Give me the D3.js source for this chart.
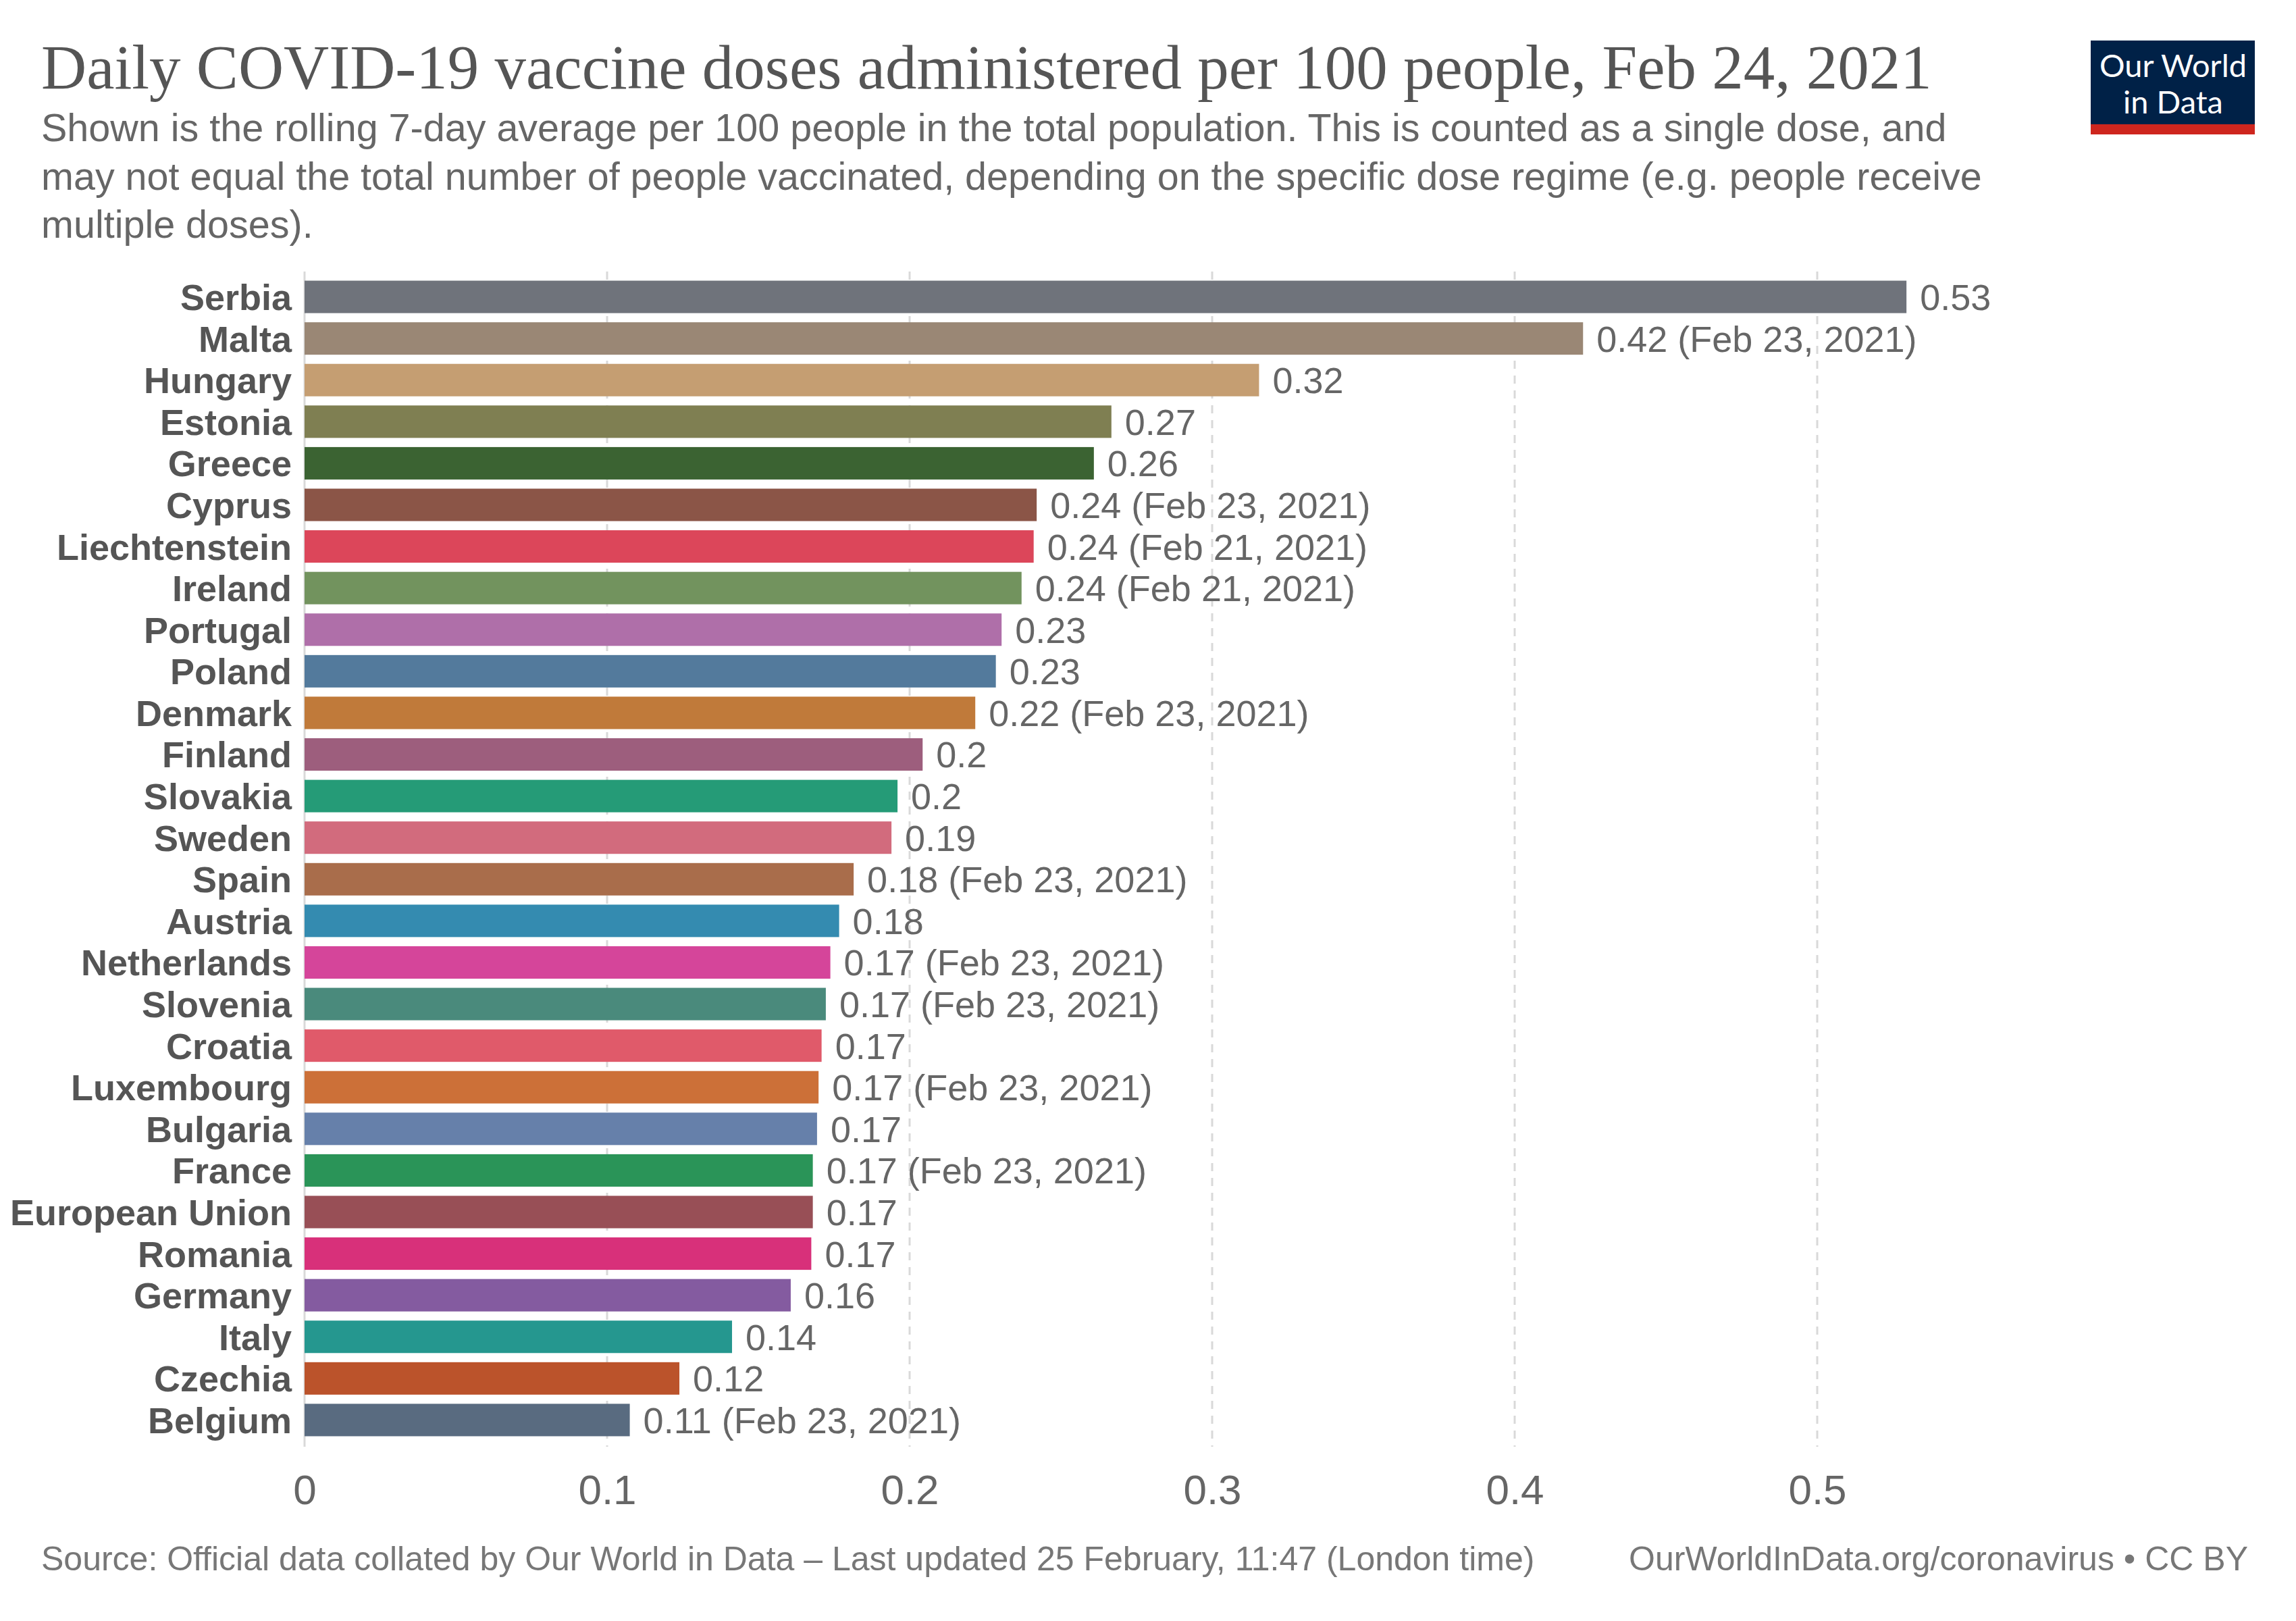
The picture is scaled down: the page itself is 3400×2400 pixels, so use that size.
<!DOCTYPE html>
<html>
<head>
<meta charset="utf-8">
<script src="https://cdn.jsdelivr.net/npm/d3@7"></script>
<style>
  body { margin: 0; background: #fff; }
  svg { display: block; }
</style>
</head>
<body>
<svg id="chart" width="3400" height="2400"></svg>
<script>
// data
const countries = ['Serbia', 'Malta', 'Hungary', 'Estonia', 'Greece', 'Cyprus', 'Liechtenstein', 'Ireland',
  'Portugal', 'Poland', 'Denmark', 'Finland', 'Slovakia', 'Sweden', 'Spain', 'Austria', 'Netherlands',
  'Slovenia', 'Croatia', 'Luxembourg', 'Bulgaria', 'France', 'European Union', 'Romania', 'Germany',
  'Italy', 'Czechia', 'Belgium']
const values = [0.5295, 0.4226, 0.3155, 0.2667, 0.2609, 0.2420, 0.2410, 0.2370,
  0.2304, 0.2285, 0.2217, 0.2043, 0.1960, 0.1940, 0.1815, 0.1767, 0.1738,
  0.1723, 0.1709, 0.1699, 0.1694, 0.1680, 0.1680, 0.1675, 0.1607,
  0.1413, 0.1239, 0.1075]
const dates = ['', 'Feb 23, 2021', '', '', '', 'Feb 23, 2021', 'Feb 21, 2021', 'Feb 21, 2021',
  '', '', 'Feb 23, 2021', '', '', '', 'Feb 23, 2021', '', 'Feb 23, 2021',
  'Feb 23, 2021', '', 'Feb 23, 2021', '', 'Feb 23, 2021', '', '', '',
  '', '', 'Feb 23, 2021']
const colors = ['#6f737b', '#9a8775', '#c59e72', '#7f7f52', '#3b6332', '#8b5547', '#dc465a', '#72935e',
  '#af6fa9', '#537a9c', '#c07a3a', '#9d5e7d', '#259b77', '#d26b7d', '#a96d4b', '#348bb0', '#d5459a',
  '#4a8a7c', '#e05a6a', '#cc7038', '#6680aa', '#2a9458', '#984f56', '#d8307a', '#845ba0',
  '#25978f', '#bb532b', '#596b80']
const xTicks = [0, 0.1, 0.2, 0.3, 0.4, 0.5]

const title = 'Daily COVID-19 vaccine doses administered per 100 people, Feb 24, 2021'
const subtitle = [
  'Shown is the rolling 7-day average per 100 people in the total population. This is counted as a single dose, and',
  'may not equal the total number of people vaccinated, depending on the specific dose regime (e.g. people receive',
  'multiple doses).'
]
const sourceText = 'Source: Official data collated by Our World in Data – Last updated 25 February, 11:47 (London time)'
const urlText = 'OurWorldInData.org/coronavirus • CC BY'

const svg = d3.select('#chart')
const sans = '"Liberation Sans", Arial, sans-serif'

// header
svg.append('text')
  .attr('x', 61).attr('y', 131)
  .attr('font-family', '"Liberation Serif", "DejaVu Serif", serif')
  .attr('font-size', 93)
  .attr('fill', '#555')
  .text(title)

svg.append('g').selectAll('text')
  .data(subtitle)
  .join('text')
  .attr('x', 61)
  .attr('y', (d, i) => 209 + i * 71.5)
  .attr('font-family', sans)
  .attr('font-size', 57.5)
  .attr('fill', '#666')
  .text(d => d)

// logo
const logo = svg.append('g')
logo.append('rect').attr('x', 3096).attr('y', 60).attr('width', 243).attr('height', 124).attr('fill', '#002147')
logo.append('rect').attr('x', 3096).attr('y', 184).attr('width', 243).attr('height', 15).attr('fill', '#ce261e')
logo.selectAll('text.logo')
  .data(['Our World', 'in Data'])
  .join('text')
  .attr('x', 3218)
  .attr('y', (d, i) => 114 + i * 54)
  .attr('text-anchor', 'middle')
  .attr('font-family', 'Lato, sans-serif')
  .attr('font-size', 47)
  .attr('fill', '#fff')
  .text(d => d)

// scales
const x = d3.scaleLinear().domain([0, 0.5]).range([451, 2691])
const y = d3.scaleBand().domain(countries).range([402, 2140]).padding(0.22)

// grid
const grid = svg.append('g')
grid.selectAll('line')
  .data(xTicks)
  .join('line')
  .attr('x1', d => x(d)).attr('x2', d => x(d))
  .attr('y1', 402).attr('y2', 2142)
  .attr('stroke', '#d9d9d9')
  .attr('stroke-width', 3)
  .attr('stroke-dasharray', d => d === 0 ? null : '12,10')

// bars
svg.append('g').selectAll('rect')
  .data(countries)
  .join('rect')
  .attr('x', x(0))
  .attr('y', d => y(d))
  .attr('width', (d, i) => x(values[i]) - x(0))
  .attr('height', y.bandwidth())
  .attr('fill', (d, i) => colors[i])

// country labels
svg.append('g').selectAll('text')
  .data(countries)
  .join('text')
  .attr('x', 432)
  .attr('y', d => y(d) + y.bandwidth() / 2)
  .attr('dy', '0.36em')
  .attr('text-anchor', 'end')
  .attr('font-family', sans)
  .attr('font-weight', 'bold')
  .attr('font-size', 54)
  .attr('fill', '#555')
  .text(d => d)

// value labels
svg.append('g').selectAll('text')
  .data(countries)
  .join('text')
  .attr('x', (d, i) => x(values[i]) + 20)
  .attr('y', d => y(d) + y.bandwidth() / 2)
  .attr('dy', '0.36em')
  .attr('font-family', sans)
  .attr('font-size', 54)
  .attr('fill', '#666')
  .text((d, i) => String(+values[i].toFixed(2)) + (dates[i] ? ' (' + dates[i] + ')' : ''))

// x axis
const axis = svg.append('g')
  .attr('transform', 'translate(0,2175)')
  .call(d3.axisBottom(x).tickValues(xTicks).tickFormat(d3.format('')).tickSize(0).tickPadding(0))
axis.select('.domain').remove()
axis.selectAll('text')
  .attr('y', 52)
  .attr('dy', 0)
  .attr('font-family', sans)
  .attr('font-size', 62)
  .attr('fill', '#666')

// footer
svg.append('text')
  .attr('x', 61).attr('y', 2325)
  .attr('font-family', sans)
  .attr('font-size', 50)
  .attr('fill', '#777')
  .text(sourceText)
svg.append('text')
  .attr('x', 3329).attr('y', 2325)
  .attr('text-anchor', 'end')
  .attr('font-family', sans)
  .attr('font-size', 50)
  .attr('fill', '#777')
  .text(urlText)
</script>
</body>
</html>
